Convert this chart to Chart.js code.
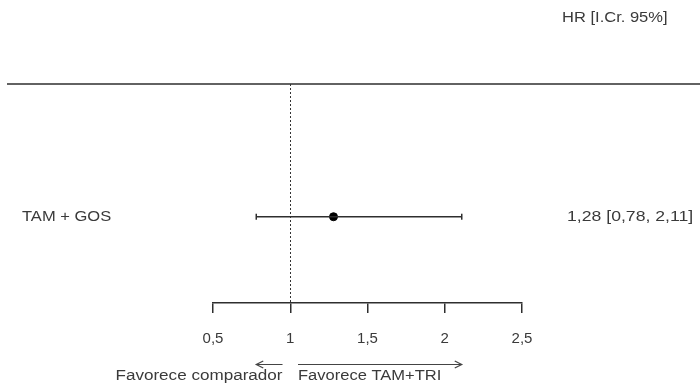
<!DOCTYPE html>
<html>
<head>
<meta charset="utf-8">
<script src="https://cdn.jsdelivr.net/npm/chart.js@4/dist/chart.umd.min.js"></script>
<style>
  html, body { margin: 0; padding: 0; background: #fff; }
  #wrap { width: 700px; height: 383px; }
</style>
</head>
<body>
<div id="wrap"><canvas id="forest"></canvas></div>
<script>
// Forest plot: hazard ratio with 95% credible interval
const studies = ['TAM + GOS'];
const hr = [1.28];
const ciLow = [0.78];
const ciHigh = [2.11];
const refValue = 1;
const tickValues = [0.5, 1, 1.5, 2, 2.5];
const tickLabels = ['0,5', '1', '1,5', '2', '2,5'];
const headerText = 'HR [I.Cr. 95%]';
const favourLeft = 'Favorece comparador';
const favourRight = 'Favorece TAM+TRI';

const fmt = v => v.toFixed(2).replace('.', ',');
const rowY = studies.map((_, i) => i + 1);

const TEXT = '#3a3a3a';
const LINE = '#2e2e2e';
const FONT = '14px "Liberation Sans", Arial, sans-serif';
const STRETCH = 1.18;

function drawText(ctx, text, x, y, align, stretch = STRETCH) {
  ctx.save();
  ctx.translate(x, y);
  ctx.scale(stretch, 1);
  ctx.textAlign = align;
  ctx.textBaseline = 'middle';
  ctx.fillText(text, 0, 0);
  ctx.restore();
}

function arrow(ctx, x1, x2, y) {
  const dir = Math.sign(x2 - x1);
  ctx.beginPath();
  ctx.moveTo(x1, y);
  ctx.lineTo(x2, y);
  ctx.moveTo(x2 - dir * 7, y - 3.5);
  ctx.lineTo(x2, y);
  ctx.lineTo(x2 - dir * 7, y + 3.5);
  ctx.stroke();
}

const forestDecor = {
  id: 'forestDecor',
  beforeDatasetsDraw(chart) {
    const { ctx, chartArea, scales } = chart;
    const xr = scales.x.getPixelForValue(refValue);
    ctx.save();
    // header rule
    ctx.strokeStyle = LINE;
    ctx.lineWidth = 1.5;
    ctx.beginPath();
    ctx.moveTo(7, chartArea.top);
    ctx.lineTo(chart.width, chartArea.top);
    ctx.stroke();
    // line of no effect
    ctx.setLineDash([2, 2]);
    ctx.lineWidth = 1;
    ctx.strokeStyle = '#333';
    ctx.beginPath();
    ctx.moveTo(Math.round(xr) + 0.5, chartArea.top);
    ctx.lineTo(Math.round(xr) + 0.5, chartArea.bottom);
    ctx.stroke();
    ctx.restore();
  },
  afterDraw(chart) {
    const { ctx, scales } = chart;
    const x = scales.x, y = scales.y;
    ctx.save();
    ctx.fillStyle = TEXT;
    ctx.font = FONT;
    drawText(ctx, headerText, 562, 18, 'left');
    studies.forEach((s, i) => {
      const py = y.getPixelForValue(rowY[i]);
      drawText(ctx, s, 22, py, 'left');
      drawText(ctx, `${fmt(hr[i])} [${fmt(ciLow[i])}, ${fmt(ciHigh[i])}]`, 567, py, 'left', 1.26);
    });
    // direction arrows under the axis
    const xl = x.getPixelForValue(0.95), xrr = x.getPixelForValue(1.05);
    ctx.strokeStyle = '#444';
    ctx.lineWidth = 1.2;
    arrow(ctx, xl, x.getPixelForValue(0.78), 364.5);
    arrow(ctx, xrr, x.getPixelForValue(2.11), 364.5);
    drawText(ctx, favourLeft, xl, 376, 'right', 1.22);
    drawText(ctx, favourRight, xrr, 376, 'left');
    ctx.restore();
  }
};

new Chart(document.getElementById('forest'), {
  data: {
    datasets: [
      {
        type: 'line',
        data: studies.map((_, i) => [{ x: ciLow[i], y: rowY[i] }, { x: ciHigh[i], y: rowY[i] }]).flat(),
        borderColor: LINE,
        borderWidth: 1.5,
        pointStyle: 'line',
        rotation: 90,
        pointRadius: 3,
        pointBorderColor: LINE,
        pointBorderWidth: 1.5,
        pointHoverRadius: 3
      },
      {
        type: 'scatter',
        data: studies.map((_, i) => ({ x: hr[i], y: rowY[i] })),
        pointRadius: 4,
        backgroundColor: '#000',
        borderColor: '#000',
        pointHoverRadius: 4
      }
    ]
  },
  options: {
    responsive: true,
    maintainAspectRatio: false,
    animation: false,
    events: [],
    layout: { padding: { left: 213, right: 178, top: 84, bottom: 0 } },
    plugins: { legend: { display: false }, tooltip: { enabled: false } },
    scales: {
      x: {
        type: 'linear',
        min: tickValues[0],
        max: tickValues[tickValues.length - 1],
        afterBuildTicks: s => { s.ticks = tickValues.map(v => ({ value: v })); },
        afterFit: s => { s.height = 80; },
        ticks: {
          callback: (v) => tickLabels[tickValues.indexOf(v)],
          color: TEXT,
          font: { family: '"Liberation Sans", Arial, sans-serif', size: 15 },
          padding: 17,
          maxRotation: 0,
          autoSkip: false
        },
        grid: { drawOnChartArea: false, drawTicks: true, tickLength: 10, color: LINE, lineWidth: 1.5 },
        border: { display: true, color: LINE, width: 1.5 }
      },
      y: {
        type: 'linear',
        display: false,
        min: 0,
        max: 1.65,
        reverse: true
      }
    }
  },
  plugins: [forestDecor]
});
</script>
</body>
</html>
